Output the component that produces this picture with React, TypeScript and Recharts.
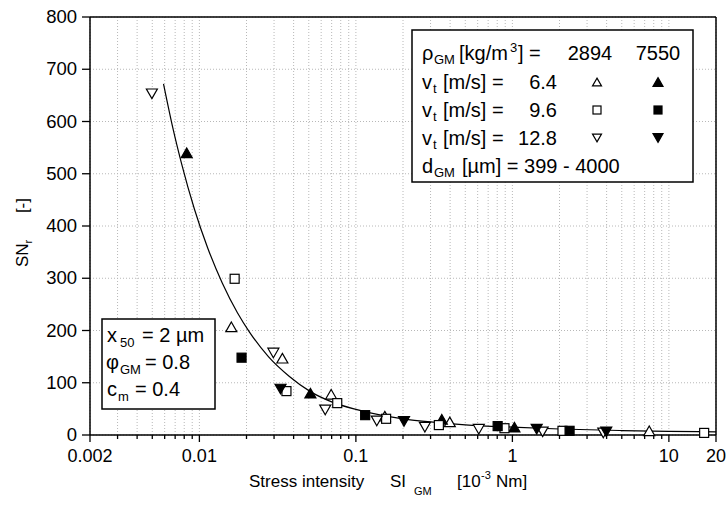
import { ScatterChart, Scatter, XAxis, YAxis, CartesianGrid } from "recharts";

// measured points, x in 10^-3 Nm (log axis), y = SN_r
const openUp = [
  { x: 0.016, y: 207 }, { x: 0.0339, y: 147 }, { x: 0.0695, y: 78 },
  { x: 0.153, y: 36 }, { x: 0.398, y: 25 }, { x: 7.49, y: 8 },
];
const filledUp = [
  { x: 0.0083, y: 540 }, { x: 0.0512, y: 80 }, { x: 0.354, y: 30 }, { x: 1.03, y: 15 },
];
const openSquare = [
  { x: 0.0168, y: 299 }, { x: 0.036, y: 84 }, { x: 0.076, y: 61 }, { x: 0.156, y: 31 },
  { x: 0.339, y: 19 }, { x: 0.89, y: 13 }, { x: 2.09, y: 8 }, { x: 16.8, y: 4 },
];
const filledSquare = [
  { x: 0.0186, y: 148 }, { x: 0.1146, y: 38 }, { x: 0.805, y: 17 }, { x: 2.32, y: 8 },
];
const openDown = [
  { x: 0.00497, y: 653 }, { x: 0.0297, y: 157 }, { x: 0.0637, y: 48 }, { x: 0.136, y: 27 },
  { x: 0.276, y: 15 }, { x: 0.61, y: 11 }, { x: 1.56, y: 6 }, { x: 3.81, y: 4 },
];
const filledDown = [
  { x: 0.033, y: 88 }, { x: 0.203, y: 26 }, { x: 1.43, y: 11 }, { x: 3.98, y: 6 },
];

// fitted curve
const fitCurve = [
  { x: 0.0059, y: 672 }, { x: 0.0068, y: 585 }, { x: 0.0077, y: 519 }, { x: 0.0093, y: 432 },
  { x: 0.0113, y: 358 }, { x: 0.014, y: 291 }, { x: 0.0175, y: 234 }, { x: 0.021, y: 196 },
  { x: 0.0276, y: 150 }, { x: 0.0376, y: 112 }, { x: 0.0512, y: 83 }, { x: 0.0706, y: 63 },
  { x: 0.1, y: 49 }, { x: 0.15, y: 37 }, { x: 0.2, y: 31 }, { x: 0.3, y: 25 },
  { x: 0.5, y: 19.5 }, { x: 1, y: 15 }, { x: 2, y: 11.5 }, { x: 5, y: 8.5 },
  { x: 10, y: 7 }, { x: 20, y: 6 },
];

const xTicks = [
  0.002, 0.003, 0.004, 0.005, 0.006, 0.007, 0.008, 0.009,
  0.01, 0.02, 0.03, 0.04, 0.05, 0.06, 0.07, 0.08, 0.09,
  0.1, 0.2, 0.3, 0.4, 0.5, 0.6, 0.7, 0.8, 0.9,
  1, 2, 3, 4, 5, 6, 7, 8, 9, 10, 20,
];
const xLabelValues = [0.002, 0.01, 0.1, 1, 10, 20];
const xLabelTexts = ["0.002", "0.01", "0.1", "1", "10", "20"];
const yTicks = [0, 100, 200, 300, 400, 500, 600, 700, 800];
const speeds = ["6.4", "9.6", "12.8"];

const FONT = "'Liberation Sans', Arial, sans-serif";

const XTick = (props: any) => {
  const { x, y, payload } = props;
  const i = xLabelValues.indexOf(payload.value);
  const major = i >= 0;
  return (
    <g>
      <line x1={x} x2={x} y1={y} y2={y + (major ? 7 : 4)} stroke="#000" strokeWidth={1.3} />
      {major && (
        <text x={x} y={y + 27} textAnchor="middle" fontSize={18} fontFamily={FONT} fill="#000">
          {xLabelTexts[i]}
        </text>
      )}
    </g>
  );
};

const YTick = (props: any) => {
  const { x, y, payload } = props;
  return (
    <g>
      <line x1={x - 8} x2={x} y1={y} y2={y} stroke="#000" strokeWidth={1.3} />
      <text x={x - 13} y={y + 6} textAnchor="end" fontSize={18.5} fontFamily={FONT} fill="#000">
        {payload.value}
      </text>
    </g>
  );
};

function marker(kind: string, filled: boolean, s: number) {
  return (props: any) => {
    const { cx, cy } = props;
    if (cx == null || cy == null) return <g />;
    const fill = filled ? "#000" : "#fff";
    const h = s * 0.87;
    if (kind === "square") {
      return <rect x={cx - s / 2} y={cy - s / 2} width={s} height={s} fill={fill} stroke="#000" strokeWidth={1.2} />;
    }
    const pts =
      kind === "up"
        ? `${cx},${cy - h / 2} ${cx + s / 2},${cy + h / 2} ${cx - s / 2},${cy + h / 2}`
        : `${cx},${cy + h / 2} ${cx + s / 2},${cy - h / 2} ${cx - s / 2},${cy - h / 2}`;
    return <polygon points={pts} fill={fill} stroke="#000" strokeWidth={1.2} />;
  };
}

function legendMark(kind: string, filled: boolean, cx: number, cy: number, s: number) {
  return marker(kind, filled, s)({ cx, cy });
}

const txt = { fontFamily: FONT, fill: "#000" };

export default function App() {
  return (
    <div style={{ position: "absolute", left: 0, top: 0, width: 728, height: 506, background: "#fff" }}>
      <ScatterChart width={728} height={506} margin={{ top: 17, right: 12, bottom: 0, left: 0 }}>
        <CartesianGrid stroke="#b8b8b8" strokeDasharray="1 2" />
        <XAxis
          dataKey="x"
          type="number"
          scale="log"
          domain={[0.002, 20]}
          allowDataOverflow
          ticks={xTicks}
          interval={0}
          height={71}
          tickSize={0}
          tickMargin={0}
          tick={XTick}
          axisLine={{ stroke: "#000", strokeWidth: 1.5 }}
          tickLine={false}
        />
        <YAxis
          dataKey="y"
          type="number"
          domain={[0, 800]}
          ticks={yTicks}
          interval={0}
          width={90}
          tickSize={0}
          tickMargin={0}
          tick={YTick}
          axisLine={{ stroke: "#000", strokeWidth: 1.5 }}
          tickLine={false}
        />
        <Scatter
          data={fitCurve}
          line={{ stroke: "#000", strokeWidth: 1.2 }}
          lineType="joint"
          lineJointType="monotoneX"
          shape={() => <g />}
          isAnimationActive={false}
        />
        <Scatter data={openUp} shape={marker("up", false, 11)} isAnimationActive={false} />
        <Scatter data={filledUp} shape={marker("up", true, 11)} isAnimationActive={false} />
        <Scatter data={openSquare} shape={marker("square", false, 9)} isAnimationActive={false} />
        <Scatter data={filledSquare} shape={marker("square", true, 9)} isAnimationActive={false} />
        <Scatter data={openDown} shape={marker("down", false, 11)} isAnimationActive={false} />
        <Scatter data={filledDown} shape={marker("down", true, 11)} isAnimationActive={false} />
      </ScatterChart>

      <svg width={728} height={506} style={{ position: "absolute", left: 0, top: 0, pointerEvents: "none" }}>
        {/* top / right frame */}
        <line x1={90} x2={716} y1={17} y2={17} stroke="#000" strokeWidth={1.5} />
        <line x1={716} x2={716} y1={17} y2={435} stroke="#000" strokeWidth={1.5} />

        {/* axis titles */}
        <g {...txt} fontSize={17}>
          <text x={249} y={487}>Stress intensity</text>
          <text x={390} y={487}>SI</text>
          <text x={414} y={495} fontSize={11}>GM</text>
          <text x={457} y={487}>[10</text>
          <text x={481} y={479} fontSize={11}>-3</text>
          <text x={496} y={487}>Nm]</text>
        </g>
        <g transform="translate(28, 267) rotate(-90)" {...txt} fontSize={17}>
          <text x={0} y={0}>
            SN<tspan fontSize={11} dy={4}>r</tspan>
          </text>
          <text x={69} y={0} textAnchor="end">[-]</text>
        </g>

        {/* parameter legend */}
        <rect x={412} y={30} width={281} height={152} fill="#fff" stroke="#000" strokeWidth={1.5} />
        <g {...txt} fontSize={20}>
          <text x={422} y={60}>ρ</text>
          <text x={434} y={64} fontSize={13}>GM</text>
          <text x={459} y={60}>[kg/m</text>
          <text x={510} y={52} fontSize={13}>3</text>
          <text x={518} y={60}>] =</text>
          <text x={590} y={60} textAnchor="middle">2894</text>
          <text x={658} y={60} textAnchor="middle">7550</text>

          {speeds.map((v, i) => (
            <g key={v}>
              <text x={422} y={89 + i * 28}>v</text>
              <text x={433} y={93 + i * 28} fontSize={13}>t</text>
              <text x={443} y={89 + i * 28}>[m/s] =</text>
              <text x={557} y={89 + i * 28} textAnchor="end">{v}</text>
            </g>
          ))}

          <text x={422} y={173}>d</text>
          <text x={434} y={177} fontSize={13}>GM</text>
          <text x={462} y={173}>[µm] = 399 - 4000</text>
        </g>
        {legendMark("up", false, 597, 82, 9)}
        {legendMark("up", true, 658, 82, 10)}
        {legendMark("square", false, 597, 110, 8)}
        {legendMark("square", true, 658, 110, 8)}
        {legendMark("down", false, 597, 138, 9)}
        {legendMark("down", true, 658, 138, 10)}

        {/* material box */}
        <rect x={102} y={319} width={113} height={90} fill="#fff" stroke="#000" strokeWidth={1.5} />
        <g {...txt} fontSize={20}>
          <text x={107} y={342}>x</text>
          <text x={120} y={347} fontSize={13}>50</text>
          <text x={142} y={342}>= 2 µm</text>
          <text x={106} y={369}>φ</text>
          <text x={120} y={374} fontSize={13}>GM</text>
          <text x={145} y={369}>= 0.8</text>
          <text x={107} y={396}>c</text>
          <text x={118} y={401} fontSize={13}>m</text>
          <text x={135} y={396}>= 0.4</text>
        </g>
      </svg>
    </div>
  );
}
